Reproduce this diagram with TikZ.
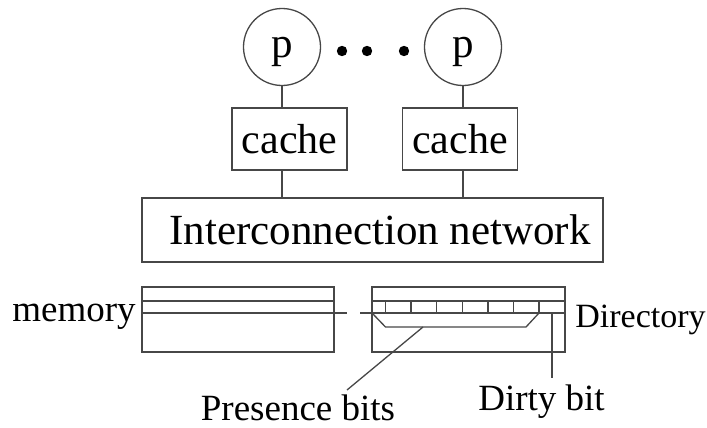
\documentclass[tikz,border=0pt]{standalone}
\usepackage{fontspec}
\setmainfont{Liberation Serif}
\usetikzlibrary{calc}
\tikzset{
  line/.style={draw=black!72,line width=0.65pt},
  proc/.style={line,circle,minimum size=38.5pt,inner sep=0pt,text depth=0pt,font=\fontsize{21.5}{21.5}\selectfont},
  cachebox/.style={line,rectangle,minimum width=57.5pt,minimum height=31pt,inner sep=0pt,font=\fontsize{21}{21}\selectfont},
  netbox/.style={line,rectangle,minimum width=230.5pt,minimum height=32pt,inner sep=0pt,font=\fontsize{21.5}{21.5}\selectfont},
  lbl/.style={inner sep=0pt,font=\fontsize{18.5}{18.5}\selectfont}
}
\begin{document}
\begin{tikzpicture}[x=0.5pt,y=-0.5pt]
				\useasboundingbox (0,0) rectangle (707,428);
				
				% processors and caches
				\node[proc] (p1) at (282,47) {p};
				\node[proc] (p2) at (463,47) {p};
				\fill[black] (342,51) circle (2.6pt);
				\fill[black] (367,51) circle (2.6pt);
				\fill[black] (404,51) circle (2.6pt);
				
				\node[cachebox] (cache1) at (289.5,139) {cache};
				\node[cachebox] (cache2) at (460,139) {cache};
				\node[netbox] (net) at (372.5,230) {\hspace*{7.5pt}Interconnection network};
				
				\draw[line] (p1.south) -- (p1.south |- cache1.north);
				\draw[line] (p2.south) -- (p2.south |- cache2.north);
				\draw[line] (p1.south |- cache1.south) -- (p1.south |- net.north);
				\draw[line] (p2.south |- cache2.south) -- (p2.south |- net.north);
				
				% memory
				\draw[line] (142,287) rectangle (334,352);
				\draw[line] (142,301) -- (334,301);
				\draw[line] (142,313) -- (347,313);
				
				% directory
				\draw[line] (372,287) rectangle (565,352);
				\draw[line] (372,301) -- (565,301);
				\draw[line] (360,313) -- (565,313);
				\foreach \x in {0,...,6}
					\draw[line] ({385.5+25.6*\x},301) -- ({385.5+25.6*\x},313);
				\draw[line] (372,313) -- (385.5,327) -- (526,327) -- (539,313);
				
				% labels
				\node[lbl,anchor=base east] (mem) at (136,321) {memory};
				\node[lbl,anchor=base west,font=\fontsize{17}{17}\selectfont] (dir) at (575,327) {Directory};
				\node[lbl,anchor=base] (pres) at (298,420) {Presence bits};
				\node[lbl,anchor=base] (dirty) at (541.5,410) {Dirty bit};
				
				\coordinate (prestip) at (423,327);
				\coordinate (presend) at (347,390);
				\coordinate (dirtytop) at (552,313);
				\coordinate (dirtyend) at (552,378);
				\draw[line] (prestip) -- (presend);
				\draw[line] (dirtytop) -- (dirtyend);
\end{tikzpicture}
\end{document}
